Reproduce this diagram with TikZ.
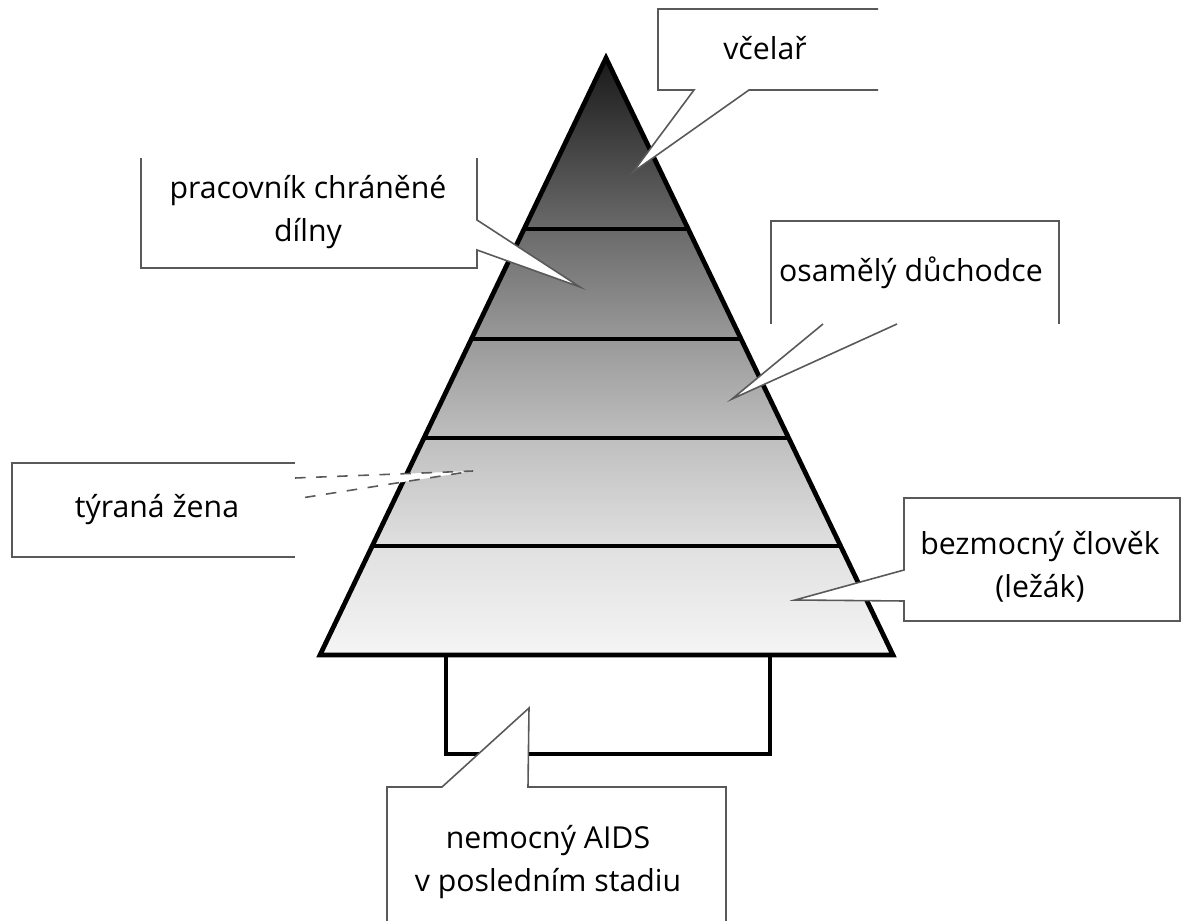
\documentclass[tikz,border=0pt]{standalone}
\usepackage{fontspec}
\setmainfont{Open Sans}
\usetikzlibrary{calc}
\pgfdeclareverticalshading{pyramid}{100bp}{color(0bp)=(black!4); color(25bp)=(black!4); color(34bp)=(black!12); color(43bp)=(black!25); color(51.5bp)=(black!40); color(60.5bp)=(black!58); color(75bp)=(black!90); color(100bp)=(black!90)}
\tikzset{
  label/.style={font=\fontsize{8.6}{12.2}\selectfont, align=center, inner sep=0pt},
  edge/.style={line width=1.35pt, black},
  balloon/.style={line width=0.45pt, gray!70!black},
}
\begin{document}
\begin{tikzpicture}[x=0.01cm, y=-0.01cm]
    \useasboundingbox[fill=white] (0,0) rectangle (1181,921);
    % Trunk
    \draw[edge, fill=white] (446,655) rectangle (770,754);
    % Pyramid
    \coordinate (apex) at (606,58);
    \coordinate (bl) at (320,655);
    \coordinate (br) at (893,655);
    \shade[shading=pyramid] (apex) -- (bl) -- (br) -- cycle;
    \foreach \t in {0.2864,0.4707,0.6365,0.8174} {
        \draw[edge] ($(apex)!\t!(bl)$) -- ($(apex)!\t!(br)$);
    }
    \draw[edge, line join=miter] (apex) -- (bl) -- (br) -- cycle;

    % Callout tips
    \coordinate (tvcelar) at (633,172);
    \coordinate (tpracovnik) at (580,287);
    \coordinate (tosamely) at (732,399);
    \coordinate (ttyrana) at (473,471);
    \coordinate (tbezmocny) at (795,600);
    \coordinate (tnemocny) at (529,708);

    % vcelar
    \fill[white] (658,9) -- (878,9) -- (878,90) -- (749,90) -- (tvcelar) -- (694,90) -- (658,90) -- cycle;
    \draw[balloon] (878,9) -- (658,9) -- (658,90) -- (694,90) -- (tvcelar) -- (749,90) -- (878,90);
    \node[label] (vcelar) at (765,48) {včelař};

    % pracovnik
    \fill[white] (141,158) -- (477,158) -- (477,220) -- (tpracovnik) -- (477,250) -- (477,268) -- (141,268) -- cycle;
    \draw[balloon] (141,158) -- (141,268) -- (477,268) -- (477,250) -- (tpracovnik) -- (477,220) -- (477,158);
    \node[label] (pracovnik) at (308,212) {pracovník chráněné\\dílny};

    % osamely
    \fill[white] (771,221) -- (1059,221) -- (1059,324) -- (897,324) -- (tosamely) -- (823,324) -- (771,324) -- cycle;
    \draw[balloon] (771,324) -- (771,221) -- (1059,221) -- (1059,324);
    \draw[balloon] (823,324) -- (tosamely) -- (897,324);
    \node[label] (osamely) at (911,273) {osamělý důchodce};

    % tyrana
    \fill[white] (12,463) -- (295,463) -- (295,478) -- (ttyrana) -- (295,499) -- (295,557) -- (12,557) -- cycle;
    \draw[balloon] (295,463) -- (12,463) -- (12,557) -- (295,557);
    \draw[balloon, dashed] (295,478) -- (ttyrana) -- (295,499);
    \node[label] (tyrana) at (157,510) {týraná žena};

    % bezmocny
    \fill[white] (904,498) -- (1180,498) -- (1180,621) -- (904,621) -- (904,601) -- (tbezmocny) -- (904,570) -- cycle;
    \draw[balloon] (904,570) -- (904,498) -- (1180,498) -- (1180,621) -- (904,621) -- (904,601) -- (tbezmocny) -- cycle;
    \node[label] (bezmocny) at (1040,567) {bezmocný člověk\\(ležák)};

    % nemocny
    \fill[white] (387,921) -- (387,787) -- (442,787) -- (tnemocny) -- (528,787) -- (726,787) -- (726,921) -- cycle;
    \draw[balloon] (387,921) -- (387,787) -- (442,787) -- (tnemocny) -- (528,787) -- (726,787) -- (726,921);
    \node[label] (nemocny) at (548,862) {nemocný AIDS\\v posledním stadiu};
\end{tikzpicture}
\end{document}
